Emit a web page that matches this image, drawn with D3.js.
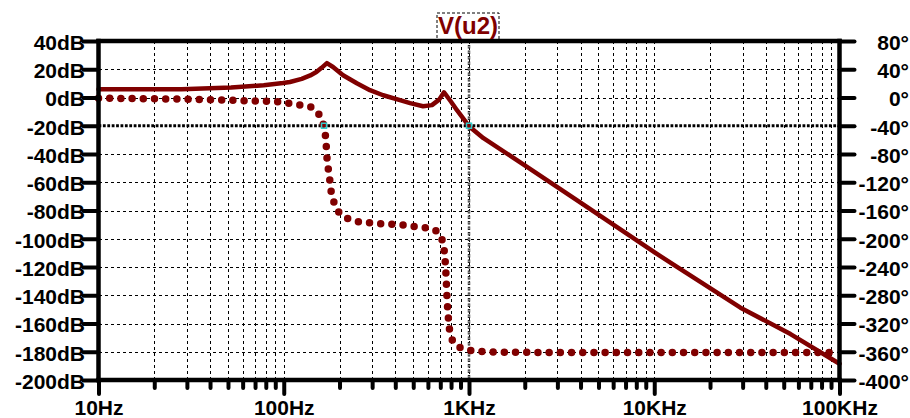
<!DOCTYPE html>
<html>
<head>
<meta charset="utf-8">
<script src="https://cdn.jsdelivr.net/npm/d3@7"></script>
<style>
  html, body { margin: 0; padding: 0; background: #fff; }
  svg { display: block; font-family: "Liberation Sans", Arial, sans-serif; font-weight: bold; }
</style>
</head>
<body>
<svg id="chart" width="910" height="418"></svg>
<script>
// Bode plot of V(u2): magnitude (solid) and phase (dotted)
const magFreq = [10, 28, 52, 78, 99, 108, 125, 139, 150, 160, 171, 184.5, 209, 248, 292, 344, 424, 481, 565, 631, 690, 733, 800, 861, 1000, 1197, 2000, 4000, 10000, 12700, 29200, 54400, 100000];
const magDb   = [5.9, 5.8, 7.1, 8.7, 10.3, 11.0, 13.2, 15.6, 18.0, 21.0, 24.3, 21.6, 15.8, 10.1, 5.2, 1.6, -1.9, -4.0, -6.2, -5.4, -1.5, 3.7, -3.0, -9.0, -20.3, -28.8, -48.0, -74.5, -109.5, -118.4, -148.8, -167.5, -188.5];

const phaseFreq = [10, 30, 46, 70, 93, 105, 122, 142, 157, 165, 169, 171, 176, 180, 187, 199, 222, 255, 296, 339, 446, 511, 593, 680, 724, 743, 752, 761, 771, 789, 840, 939, 1091, 1436, 3000, 10000, 100000];
const phaseDeg  = [-1, -2.5, -3.5, -5, -6, -7.8, -10.6, -14, -27, -43, -62, -84, -110, -132, -149, -163, -171.5, -176, -177.7, -179, -180.5, -183, -185, -190.5, -207, -230, -253, -284, -307, -332, -349, -356, -359, -360.5, -361, -361, -361];

const freqTicks  = [10, 100, 1000, 10000, 100000];
const freqLabels = ["10Hz", "100Hz", "1KHz", "10KHz", "100KHz"];
const dbTicks  = [40, 20, 0, -20, -40, -60, -80, -100, -120, -140, -160, -180, -200];
const dbLabels = ["40dB", "20dB", "0dB", "-20dB", "-40dB", "-60dB", "-80dB", "-100dB", "-120dB", "-140dB", "-160dB", "-180dB", "-200dB"];
const degTicks  = [80, 40, 0, -40, -80, -120, -160, -200, -240, -280, -320, -360, -400];
const degLabels = ["80°", "40°", "0°", "-40°", "-80°", "-120°", "-160°", "-200°", "-240°", "-280°", "-320°", "-360°", "-400°"];

const traceName = "V(u2)";
const cursorFreq = 1000;      // vertical cursor
const cursorDb = -20;         // horizontal cursor
const phaseCursorFreq = 165;
const phaseCursorDeg = -40;

const traceColor = "#800000";
const L = 98.5, R = 839.5, T = 41, B = 380;

const svg = d3.select("#chart");
const x = d3.scaleLog().domain([10, 100000]).range([L, R]);
const yDb = d3.scaleLinear().domain([-200, 40]).range([B, T]);
const yDeg = d3.scaleLinear().domain([-400, 80]).range([B, T]);

// minor decade positions 2..9
const minorTicks = [];
[10, 100, 1000, 10000].forEach(d => { for (let k = 2; k <= 9; k++) minorTicks.push(d * k); });
const allVertical = minorTicks.concat(freqTicks.slice(1, -1)).sort((a, b) => a - b);

// grid
const grid = svg.append("g");
grid.append("g")
  .attr("transform", `translate(0,${B})`)
  .call(d3.axisBottom(x).tickValues(allVertical).tickFormat("").tickSize(-(B - T)))
  .call(g => g.select(".domain").remove())
  .selectAll("line")
  .attr("stroke", "#000").attr("stroke-width", 1).attr("stroke-dasharray", "3,3")
  .attr("shape-rendering", "crispEdges");
grid.append("g")
  .attr("transform", `translate(${L},0)`)
  .call(d3.axisLeft(yDb).tickValues(dbTicks.slice(1, -1).filter(v => v !== cursorDb)).tickFormat("").tickSize(-(R - L)))
  .call(g => g.select(".domain").remove())
  .selectAll("line")
  .attr("stroke", "#000").attr("stroke-width", 1).attr("stroke-dasharray", "3,3")
  .attr("shape-rendering", "crispEdges");

// cursors
svg.append("line")
  .attr("x1", L).attr("x2", R).attr("y1", yDb(cursorDb)).attr("y2", yDb(cursorDb))
  .attr("stroke", "#000").attr("stroke-width", 2.8).attr("stroke-dasharray", "2.8,1.6");
svg.append("line")
  .attr("x1", x(cursorFreq)).attr("x2", x(cursorFreq)).attr("y1", T + 4).attr("y2", B - 2)
  .attr("stroke", "#222").attr("stroke-width", 2.4).attr("stroke-dasharray", "3.5,2");
svg.append("line")
  .attr("x1", x(cursorFreq)).attr("x2", x(cursorFreq)).attr("y1", T + 4).attr("y2", B - 2)
  .attr("stroke", "#fff").attr("stroke-width", 0.9).attr("stroke-dasharray", "1.5,4").attr("stroke-dashoffset", -1);

// traces
const magData = magFreq.map((f, i) => ({ f, v: magDb[i] }));
const phaseData = phaseFreq.map((f, i) => ({ f, v: phaseDeg[i] }));

svg.append("path")
  .datum(magData)
  .attr("fill", "none").attr("stroke", traceColor).attr("stroke-width", 4.5)
  .attr("stroke-linejoin", "round").attr("stroke-linecap", "round")
  .attr("d", d3.line().x(d => x(d.f)).y(d => yDb(d.v)).curve(d3.curveLinear));

svg.append("path")
  .datum(phaseData)
  .attr("fill", "none").attr("stroke", traceColor).attr("stroke-width", 7.5)
  .attr("stroke-linecap", "round").attr("stroke-dasharray", "0,11.2")
  .attr("d", d3.line().x(d => x(d.f)).y(d => yDeg(d.v)).curve(d3.curveMonotoneX));

// cursor markers
[[x(cursorFreq), yDb(cursorDb)], [x(phaseCursorFreq), yDeg(phaseCursorDeg)]].forEach(([cx, cy]) => {
  svg.append("rect")
    .attr("x", cx - 2.5).attr("y", cy - 2.5).attr("width", 5).attr("height", 5)
    .attr("fill", "none").attr("stroke", "#33cccc").attr("stroke-width", 1.5);
});

// frame
const frame = svg.append("g").attr("stroke", "#000").attr("stroke-width", 4.5).attr("stroke-linecap", "square");
frame.append("line").attr("x1", L).attr("x2", R).attr("y1", T).attr("y2", T);
frame.append("line").attr("x1", L).attr("x2", R).attr("y1", B).attr("y2", B);
frame.append("line").attr("x1", L).attr("x2", L).attr("y1", T).attr("y2", B);
frame.append("line").attr("x1", R).attr("x2", R).attr("y1", T).attr("y2", B);

function styleAxis(g) {
  g.select(".domain").remove();
  g.selectAll(".tick line").attr("stroke", "#000").attr("stroke-width", 4).attr("stroke-linecap", "round");
  g.selectAll(".tick text").attr("fill", "#000").attr("font-size", 21)
    .attr("font-family", "'Liberation Sans', Arial, sans-serif").attr("font-weight", "bold");
}

// left axis (dB)
svg.append("g")
  .attr("transform", `translate(${L},0)`)
  .call(d3.axisLeft(yDb).tickValues(dbTicks).tickFormat((d, i) => dbLabels[i]).tickSize(15).tickPadding(-1.5))
  .call(styleAxis)
  .call(g => g.selectAll(".tick text").attr("dy", "0.4em"));

// right axis (degrees)
svg.append("g")
  .attr("transform", `translate(${R},0)`)
  .call(d3.axisRight(yDeg).tickValues(degTicks).tickFormat((d, i) => degLabels[i]).tickSize(15))
  .call(styleAxis)
  .call(g => g.selectAll(".tick text").attr("dy", "0.4em").attr("text-anchor", "end").attr("x", 909 - R));

// bottom axis, minor then major ticks
svg.append("g")
  .attr("transform", `translate(0,${B})`)
  .call(d3.axisBottom(x).tickValues(minorTicks).tickFormat("").tickSize(8))
  .call(styleAxis);
svg.append("g")
  .attr("transform", `translate(0,${B})`)
  .call(d3.axisBottom(x).tickValues(freqTicks).tickFormat((d, i) => freqLabels[i]).tickSize(14).tickPadding(6))
  .call(styleAxis);

// trace title
const titleX = x(cursorFreq) - 1;
svg.append("rect")
  .attr("x", titleX - 31).attr("y", 13).attr("width", 62).attr("height", T - 13)
  .attr("fill", "none").attr("stroke", "#000").attr("stroke-width", 1).attr("stroke-dasharray", "3,2");
svg.append("text")
  .attr("x", titleX).attr("y", 34).attr("text-anchor", "middle")
  .attr("font-size", 24).attr("fill", traceColor)
  .text(traceName);
</script>
</body>
</html>
